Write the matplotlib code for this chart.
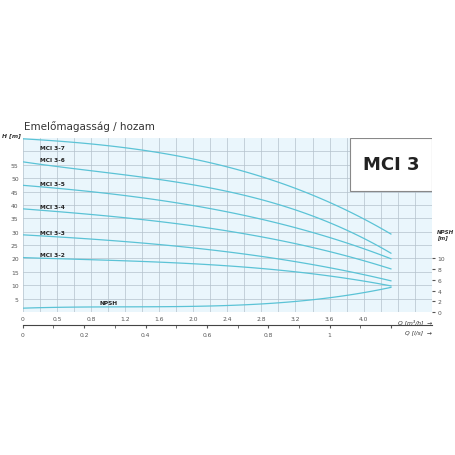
import numpy as np
import matplotlib.pyplot as plt
from matplotlib.patches import Rectangle

# Q in m3/h, H in m
q_pts = [0, 0.8, 1.6, 2.4, 3.2, 3.6, 4.0, 4.32]
curves = {
    "MCI 3-7": [64.6, 63.0, 59.5, 54.0, 46.0, 41.0, 35.4, 28.7],
    "MCI 3-6": [56.0, 53.0, 49.5, 44.8, 38.0, 33.5, 28.0, 21.6],
    "MCI 3-5": [47.3, 45.0, 41.8, 37.3, 31.5, 27.8, 23.8, 19.8],
    "MCI 3-4": [38.5, 36.5, 33.8, 30.2, 25.5, 22.6, 19.3, 16.0],
    "MCI 3-3": [28.8, 27.3, 25.2, 22.4, 18.8, 16.6, 14.0, 11.6],
    "MCI 3-2": [20.3, 19.6, 18.6, 17.2, 15.0, 13.5, 11.6, 9.7],
}
label_h = {"MCI 3-7": 61.5, "MCI 3-6": 56.8, "MCI 3-5": 48.0,
           "MCI 3-4": 39.3, "MCI 3-3": 29.8, "MCI 3-2": 21.5}
npsh = [0.75, 0.85, 1.0, 1.3, 2.0, 2.6, 3.5, 4.7]
x_ticks = [0, 0.4, 0.8, 1.2, 1.6, 2.0, 2.4, 2.8, 3.2, 3.6, 4.0]
x_labels = ["0", "0.5", "0.8", "1.2", "1.6", "2.0", "2.4", "2.8", "3.2", "3.6", "4.0"]
ls_ticks = [0, 0.2, 0.4, 0.6, 0.8, 1.0]

line_c = "#5bc3d6"
grid_c = "#b4c2cc"
cond = "DejaVu Sans"

fig = plt.figure(figsize=(4.56, 4.56), dpi=100)
ax = fig.add_axes([0.05, 0.3136, 0.897, 0.3816])
ax.set_facecolor("#eaf6fc")
ax.set_xlim(0, 4.8)
ax.set_ylim(0, 65)
ax.set_xticks(np.arange(0, 4.81, 0.2), minor=True)
ax.set_xticks(x_ticks)
ax.set_xticklabels(x_labels)
ax.set_yticks(np.arange(0, 65, 5), minor=True)
ax.set_yticks(range(5, 60, 5))
ax.grid(True, which="both", color=grid_c, lw=0.5)
ax.tick_params(which="both", length=0, labelsize=4.3, colors="#555555", pad=3)
for s in ax.spines.values():
    s.set_visible(False)

def smooth(xs, ys):
    c = np.polyfit(xs, ys, 3)
    xx = np.linspace(0, xs[-1], 100)
    return xx, np.polyval(c, xx)

for name, hs in curves.items():
    xx, yy = smooth(q_pts, hs)
    ax.plot(xx, yy, color=line_c, lw=0.9)
    ax.text(0.2, label_h[name], name, fontsize=4.2, fontweight="bold",
            family=cond, color="#222222", va="center")

xx, yy = smooth(q_pts, [v * 2 for v in npsh])
ax.plot(xx, yy, color=line_c, lw=0.9)
ax.text(0.9, 3.0, "NPSH", fontsize=4.2, fontweight="bold",
        family=cond, color="#222222")

ax2 = ax.twinx()
ax2.set_ylim(0, 32.5)
ax2.set_yticks(range(0, 11, 2))
ax2.tick_params(length=2, labelsize=4.3, colors="#555555", pad=2)
for s in ax2.spines.values():
    s.set_visible(False)
ax2.text(1.012, 0.42, "NPSH\n[m]", transform=ax.transAxes, fontsize=4.0,
         style="italic", fontweight="bold", ha="left", va="bottom",
         linespacing=1.1, color="#333333")

ax.text(-0.005, 1.01, "H [m]", transform=ax.transAxes, fontsize=4.3,
        style="italic", fontweight="bold", ha="right", color="#333333")
fig.text(0.053, 0.715, "Emelőmagasság / hozam", fontsize=7.5, color="#333333")
ax.add_patch(Rectangle((3.84, 45.2), 0.96, 19.8, fc="white", ec="#888888",
                       lw=0.8, zorder=5))
ax.text(4.32, 55.1, "MCI 3", fontsize=13, fontweight="bold", family=cond,
        ha="center", va="center", zorder=6, color="#222222")
ax.text(1.0, -0.04, "Q [m³/h]  →", transform=ax.transAxes, fontsize=4.3,
        style="italic", ha="right", va="top", color="#333333")

# second axis in l/s
ax3 = fig.add_axes([0.05, 0.283, 0.897, 0.001])
ax3.set_xlim(0, 4.8 / 3.6)
ax3.set_yticks([])
ax3.set_xticks(ls_ticks + [1.2])
ax3.set_xticklabels([f"{v:g}" for v in ls_ticks] + [""])
ax3.set_xticks(np.arange(0.1, 1.2, 0.2), minor=True)
ax3.tick_params(which="both", direction="in", length=2, labelsize=4.3,
                colors="#555555", pad=4)
for k in ["left", "right", "bottom"]:
    ax3.spines[k].set_visible(False)
ax3.spines["top"].set_color("#444444")
ax3.xaxis.set_ticks_position("top")
ax3.tick_params(labeltop=False, labelbottom=True)
ax3.text(1.0, -8, "Q [l/s]  →", transform=ax3.transAxes, fontsize=4.3,
         style="italic", ha="right", va="top", color="#333333")

fig.savefig("out.png", dpi=100)
